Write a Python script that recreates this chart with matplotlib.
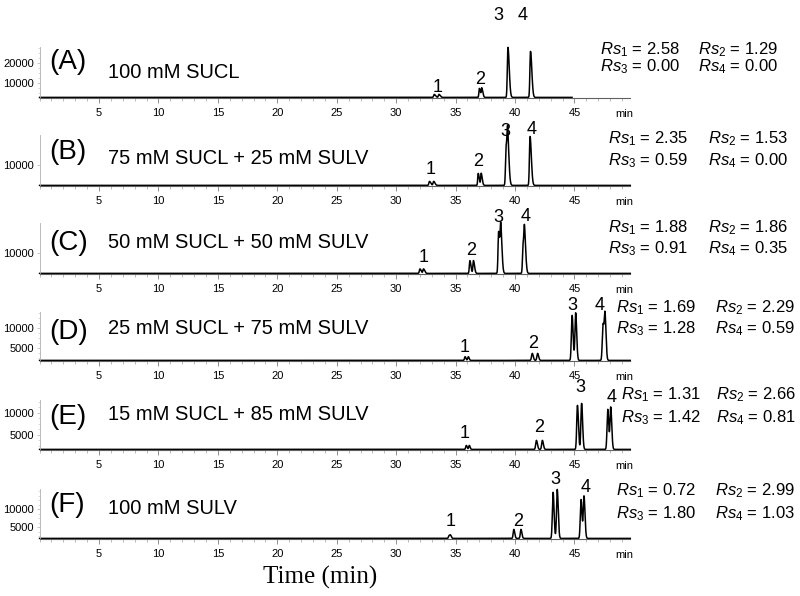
import numpy as np
import matplotlib.pyplot as plt
from matplotlib.ticker import MultipleLocator, FixedLocator, AutoMinorLocator

plt.rcParams['font.family'] = ['Liberation Sans', 'DejaVu Sans']
plt.rcParams['mathtext.fontset'] = 'custom'
plt.rcParams['mathtext.rm'] = 'Liberation Sans'
plt.rcParams['mathtext.it'] = 'Liberation Sans:italic'

# panel titles
panel_tags = ["(A)", "(B)", "(C)", "(D)", "(E)", "(F)"]
panel_names = ["100 mM SUCL",
               "75 mM SUCL + 25 mM SULV",
               "50 mM SUCL + 50 mM SULV",
               "25 mM SUCL + 75 mM SULV",
               "15 mM SUCL + 85 mM SULV",
               "100 mM SULV"]

# peak tables: retention time (min), height above baseline (counts), sigma (min)
rt_a = [33.2, 33.6, 37.0, 37.2, 39.4, 41.3]
h_a = [1500, 1500, 4500, 4500, 25000, 23000]
w_a = [0.05, 0.05, 0.04, 0.04, 0.05, 0.05]

rt_b = [32.8, 33.15, 36.9, 37.15, 39.25, 39.38, 41.26]
h_b = [1250, 1250, 3750, 3750, 12200, 12200, 15300]
w_b = [0.05, 0.05, 0.04, 0.04, 0.05, 0.05, 0.05]

rt_c = [32.0, 32.3, 36.2, 36.5, 38.62, 38.8, 40.68, 40.8]
h_c = [1400, 1400, 4000, 4000, 13100, 13300, 9000, 10600]
w_c = [0.05, 0.05, 0.045, 0.045, 0.05, 0.05, 0.05, 0.05]

rt_d = [35.8, 36.07, 41.45, 41.9, 44.8, 45.1, 47.4, 47.57]
h_d = [925, 925, 1750, 1750, 11250, 11900, 9000, 11000]
w_d = [0.05, 0.05, 0.06, 0.06, 0.06, 0.06, 0.06, 0.06]

rt_e = [35.9, 36.15, 41.8, 42.3, 45.25, 45.6, 47.8, 48.05]
h_e = [900, 900, 2050, 2050, 10000, 10450, 9100, 9550]
w_e = [0.05, 0.05, 0.06, 0.06, 0.06, 0.06, 0.06, 0.06]

rt_f = [34.45, 34.57, 39.9, 40.5, 43.2, 43.55, 45.55, 45.8]
h_f = [800, 800, 2500, 2500, 12800, 13600, 10800, 11700]
w_f = [0.05, 0.05, 0.055, 0.055, 0.06, 0.06, 0.06, 0.06]

peak_tables = [(rt_a, h_a, w_a), (rt_b, h_b, w_b), (rt_c, h_c, w_c),
               (rt_d, h_d, w_d), (rt_e, h_e, w_e), (rt_f, h_f, w_f)]
run_end = [44.8, 49.7, 49.7, 49.7, 49.7, 49.7]

# resolution values Rs1..Rs4 per panel
rs_values = [[2.58, 1.29, 0.00, 0.00],
             [2.35, 1.53, 0.59, 0.00],
             [1.88, 1.86, 0.91, 0.35],
             [1.69, 2.29, 1.28, 0.59],
             [1.31, 2.66, 1.42, 0.81],
             [0.72, 2.99, 1.80, 1.03]]

y_ticks = [[10000, 20000], [10000], [10000],
           [5000, 10000], [5000, 10000], [5000, 10000]]

W, H = 800, 596
fig = plt.figure(figsize=(W / 100, H / 100), dpi=100)


def fig_text(x, y, s, **kw):
    fig.text(x / W, 1 - y / H, s, **kw)


# layout (pixels): axes top, axes bottom, y value at bottom, px per 1000 counts
layout = [(47, 98, 2500, 2.0),
          (135, 186, 3440, 3.2),
          (223, 274, 3440, 3.2),
          (312, 361, 1750, 4.0),
          (400, 450, 1590, 4.4),
          (489, 539, 1670, 3.6)]
ax_left, ax_right = 39.6, 630
px_per_min = 11.886
xmax = (ax_right - ax_left) / px_per_min

tail = [2.2, 2.2, 2.0, 1.4, 1.4, 1.4]

# peak-number labels (x, y in px)
num_pos = [[(438, 88), (480, 80), (498, 15), (523, 15)],
           [(431, 170), (478, 162), (505, 132), (532, 130)],
           [(424, 258), (471, 251), (498, 218), (526, 217)],
           [(465, 347), (533, 343), (572, 306), (600, 306)],
           [(465, 433), (539, 427), (580, 388), (612, 398)],
           [(451, 522), (518, 522), (555, 480), (586, 488)]]
# Rs text (x col1, x col2, y row1, y row2)
rs_pos = [(600, 698, 48, 65), (608, 708, 137, 159), (608, 708, 226, 247),
          (616, 715, 306, 327), (621, 716, 393, 416), (616, 715, 489, 512)]
tag_y = [62, 152, 243, 332, 417, 505]
name_y = [72, 158, 243, 329, 414, 508]

for i in range(6):
    top, bot, ymin, scale = layout[i]
    ax = fig.add_axes([ax_left / W, 1 - bot / H, (ax_right - ax_left) / W, (bot - top) / H])
    ymax = ymin + (bot - top) / scale * 1000
    base = ymin + 0.6 / scale * 1000

    rt, h, w = peak_tables[i]
    t = np.arange(0, run_end[i], 0.004)
    sig = base + np.zeros_like(t)
    for r, hh, ww in zip(rt, h, w):
        s = np.where(t < r, ww, ww * tail[i])
        sig += hh * np.exp(-0.5 * ((t - r) / s) ** 2)
    ax.plot(t, sig, color='black', lw=1.1, clip_on=False)

    ax.set_xlim(0, xmax)
    ax.set_ylim(ymin, ymax)
    ax.spines['top'].set_visible(False)
    ax.spines['right'].set_visible(False)
    ax.spines['left'].set_color('#b0b0b0')
    ax.spines['left'].set_linewidth(0.6)
    ax.spines['bottom'].set_color('#606060')
    ax.spines['bottom'].set_linewidth(0.8)
    ax.set_facecolor('none')

    ax.xaxis.set_major_locator(FixedLocator([5, 10, 15, 20, 25, 30, 35, 40, 45]))
    ax.xaxis.set_minor_locator(MultipleLocator(1))
    ax.tick_params(axis='x', which='major', length=3.5, width=0.6, color='#808080',
                   labelsize=8, pad=4)
    ax.tick_params(axis='x', which='minor', length=2.5, width=0.5, color='#a0a0a0')
    ax.set_yticks(y_ticks[i])
    ax.yaxis.set_minor_locator(AutoMinorLocator(4))
    ax.tick_params(axis='y', which='major', length=2.5, width=0.5, color='#b0b0b0',
                   labelsize=8, pad=1.5)
    ax.tick_params(axis='y', which='minor', length=1.5, width=0.4, color='#c0c0c0')
    ax.text(49.2, -0.32, 'min', transform=ax.get_xaxis_transform(), fontsize=8,
            ha='center', va='center')

    fig_text(49, tag_y[i], panel_tags[i], fontsize=20, va='center', ha='left')
    fig_text(108, name_y[i], panel_names[i], fontsize=14.5, va='center', ha='left')

    for k, (x, y) in enumerate(num_pos[i]):
        fig_text(x, y, str(k + 1), fontsize=13, ha='center', va='center')

    x1, x2, y1, y2 = rs_pos[i]
    rs = rs_values[i]
    fig_text(x1, y1 + 6, r'$Rs_{1}$' + ' = %.2f' % rs[0], fontsize=12, va='baseline')
    fig_text(x2, y1 + 6, r'$Rs_{2}$' + ' = %.2f' % rs[1], fontsize=12, va='baseline')
    fig_text(x1, y2 + 6, r'$Rs_{3}$' + ' = %.2f' % rs[2], fontsize=12, va='baseline')
    fig_text(x2, y2 + 6, r'$Rs_{4}$' + ' = %.2f' % rs[3], fontsize=12, va='baseline')

fig_text(320, 577, 'Time (min)', family=['Liberation Serif', 'DejaVu Serif'],
         fontsize=18, ha='center', va='center')

fig.savefig('out.png', dpi=100)
